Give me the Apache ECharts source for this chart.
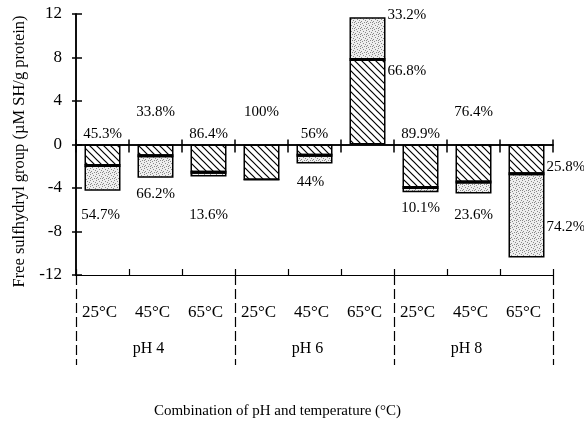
<!DOCTYPE html>
<html>
<head>
<meta charset="utf-8">
<script src="https://cdn.jsdelivr.net/npm/echarts@6/dist/echarts.min.js"></script>
<style>
  html, body { margin: 0; padding: 0; background: #fff; }
  #chart { width: 584px; height: 424px; }
</style>
</head>
<body>
<div id="chart"></div>
<script>
  // temperature categories and pH groups
  const temps = ['25°C', '45°C', '65°C', '25°C', '45°C', '65°C', '25°C', '45°C', '65°C'];
  const groups = ['pH 4', 'pH 6', 'pH 8'];

  // hatched part (near zero) and dotted part (outer), µM SH/g protein
  const hatched = [-1.93, -1.03, -2.55, -3.25, -0.98, 7.82, -3.96, -3.44, -2.68];
  const dotted = [-2.32, -2.02, -0.40, 0, -0.77, 3.88, -0.44, -1.06, -7.72];

  // percentage labels
  const hatchedPct = ['45.3%', '33.8%', '86.4%', '100%', '56%', '66.8%', '89.9%', '76.4%', '25.8%'];
  const dottedPct = ['54.7%', '66.2%', '13.6%', '', '44%', '33.2%', '10.1%', '23.6%', '74.2%'];

  const yTicks = [-12, -8, -4, 0, 4, 8, 12];

  const FONT = '"Liberation Serif", "Times New Roman", serif';

  // label placement (style only)
  const hatchLabelCfg = [
    { position: 'top', offset: [0, 0] },
    { position: 'top', offset: [0, -22] },
    { position: 'top', offset: [0, 0] },
    { position: 'top', offset: [0, -22] },
    { position: 'top', offset: [0, 0] },
    { position: 'right', offset: [0, -31] },
    { position: 'top', offset: [0, 0] },
    { position: 'top', offset: [0, -22] },
    { position: 'right', offset: [0, 8] },
  ];
  const dotLabelCfg = [
    { position: 'bottom', offset: [-2, 14] },
    { position: 'bottom', offset: [0, 6] },
    { position: 'bottom', offset: [0, 28] },
    { position: 'bottom', offset: [0, 0] },
    { position: 'bottom', offset: [-4, 8] },
    { position: 'right', offset: [0, -23] },
    { position: 'bottom', offset: [0, 5] },
    { position: 'bottom', offset: [0, 11] },
    { position: 'right', offset: [0, 11] },
  ];

  // hatch pattern "\\\\"
  function makeHatch() {
    const s = 7;
    const c = document.createElement('canvas');
    c.width = s; c.height = s;
    const ctx = c.getContext('2d');
    ctx.fillStyle = '#fff';
    ctx.fillRect(0, 0, s, s);
    ctx.strokeStyle = '#000';
    ctx.lineWidth = 1.2;
    ctx.beginPath();
    ctx.moveTo(-1, -1); ctx.lineTo(s + 1, s + 1);
    ctx.moveTo(-1, s - 1); ctx.lineTo(1, s + 1);
    ctx.moveTo(s - 1, -1); ctx.lineTo(s + 1, 1);
    ctx.stroke();
    return c;
  }

  // light stipple pattern
  function makeDots() {
    const s = 6;
    const c = document.createElement('canvas');
    c.width = s; c.height = s;
    const ctx = c.getContext('2d');
    ctx.fillStyle = '#eeeeee';
    ctx.fillRect(0, 0, s, s);
    ctx.fillStyle = '#8a8a8a';
    [[0, 0], [3, 1], [1, 3], [4, 4], [2, 5], [5, 2], [0, 4]].forEach(p => ctx.fillRect(p[0], p[1], 1, 1));
    return c;
  }

  const hatchFill = { image: makeHatch(), repeat: 'repeat' };
  const dotFill = { image: makeDots(), repeat: 'repeat' };

  const labelBase = {
    show: true,
    color: '#000',
    fontFamily: FONT,
    fontSize: 15,
    distance: 3,
  };

  const hatchData = hatched.map((v, i) => ({
    value: v,
    label: Object.assign({}, labelBase, hatchLabelCfg[i], {
      formatter: hatchedPct[i],
      distance: hatchLabelCfg[i].position === 'right' ? 2 : 3,
    }),
  }));
  const dotData = dotted.map((v, i) => ({
    value: v,
    label: Object.assign({}, labelBase, dotLabelCfg[i], {
      show: dottedPct[i] !== '',
      formatter: dottedPct[i],
      distance: dotLabelCfg[i].position === 'right' ? 2 : 3,
    }),
  }));

  const barW = 36;
  const black = (w, extra) => Object.assign({ color: '#000', width: w }, extra || {});

  const yCommon = {
    type: 'value',
    min: yTicks[0],
    max: yTicks[yTicks.length - 1],
    interval: 4,
    position: 'left',
    splitLine: { show: false },
  };

  const option = {
    animation: false,
    backgroundColor: '#fff',
    textStyle: { fontFamily: FONT },
    grid: { left: 76, right: 31, top: 14, bottom: 148 },
    xAxis: [
      {
        type: 'category',
        data: temps,
        position: 'bottom',
        axisLine: { show: true, onZero: false, lineStyle: black(1.2) },
        axisTick: { show: true, interval: 0, inside: true, length: 6, lineStyle: black(1.2) },
        axisLabel: { interval: 0, margin: 29, color: '#000', fontSize: 17, fontFamily: FONT, padding: [0, 6, 0, 0] },
      },
      {
        type: 'category',
        data: temps,
        position: 'bottom',
        axisLine: { show: true, onZero: true, lineStyle: black(1.5) },
        axisTick: { show: true, interval: 0, inside: true, length: 5, lineStyle: black(1.5) },
        axisLabel: { show: false },
      },
      {
        type: 'category',
        data: temps,
        position: 'bottom',
        axisLine: { show: true, onZero: true, lineStyle: black(1.5) },
        axisTick: { show: true, interval: 0, inside: false, length: 8, lineStyle: black(1.5) },
        axisLabel: { show: false },
      },
      {
        type: 'category',
        data: groups,
        position: 'bottom',
        axisLine: { show: true, onZero: false, lineStyle: black(1.2) },
        axisTick: { show: true, interval: 0, inside: false, length: 90, lineStyle: black(1.2, { type: [10, 4] }) },
        axisLabel: { interval: 0, margin: 66, color: '#000', fontSize: 16, fontFamily: FONT, padding: [0, 14, 0, 0] },
        name: 'Combination of pH and temperature (°C)',
        nameLocation: 'middle',
        nameGap: 129,
        nameTextStyle: { color: '#000', fontSize: 15, fontFamily: FONT, padding: [0, 74, 0, 0] },
      },
    ],
    yAxis: [
      Object.assign({}, yCommon, {
        axisLine: { show: true, lineStyle: black(1.5) },
        axisTick: { show: true, inside: false, length: 4, lineStyle: black(1.5) },
        axisLabel: { margin: 14, color: '#000', fontSize: 17, fontFamily: FONT },
        name: 'Free sulfhydryl group (µM SH/g protein)',
        nameLocation: 'middle',
        nameGap: 47,
        nameTextStyle: { color: '#000', fontSize: 16.5, fontFamily: FONT, padding: [0, 14, 0, 0] },
      }),
      Object.assign({}, yCommon, {
        axisLine: { show: true, lineStyle: black(1.5) },
        axisTick: { show: true, inside: true, length: 6, lineStyle: black(1.5) },
        axisLabel: { show: false },
      }),
    ],
    series: [
      {
        name: 'hatched',
        type: 'bar',
        stack: 'sh',
        barWidth: barW,
        data: hatchData,
        itemStyle: { color: hatchFill, borderColor: '#000', borderWidth: 1.5 },
      },
      {
        name: 'dotted',
        type: 'bar',
        stack: 'sh',
        barWidth: barW,
        data: dotData,
        itemStyle: { color: dotFill, borderColor: '#000', borderWidth: 1.5 },
      },
      {
        // thick divider between the two parts
        name: 'divider',
        type: 'custom',
        z: 5,
        data: hatched.map((v, i) => [i, v, dotted[i]]),
        renderItem: function (params, api) {
          if (api.value(2) === 0) return null;
          const pt = api.coord([api.value(0), api.value(1)]);
          return {
            type: 'line',
            shape: { x1: pt[0] - barW / 2, y1: pt[1], x2: pt[0] + barW / 2, y2: pt[1] },
            style: { stroke: '#000', lineWidth: 3 },
          };
        },
      },
    ],
  };

  const chart = echarts.init(document.getElementById('chart'), null, { renderer: 'canvas' });
  chart.setOption(option);
</script>
</body>
</html>
